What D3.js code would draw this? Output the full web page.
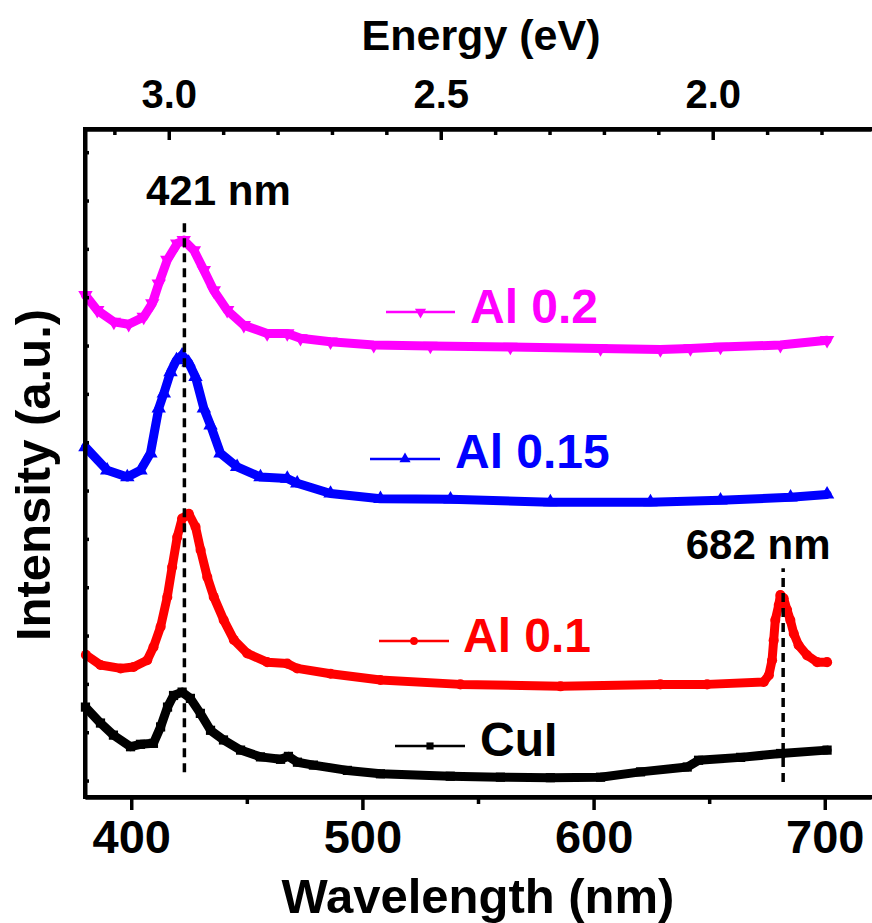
<!DOCTYPE html>
<html>
<head>
<meta charset="utf-8">
<script src="https://cdn.jsdelivr.net/npm/d3@7/dist/d3.min.js"></script>
<style>
  body { margin: 0; background: #fff; }
  svg text { font-family: "Liberation Sans", Arial, sans-serif; font-weight: bold; }
</style>
</head>
<body>
<svg id="chart" width="872" height="923"></svg>
<script>
// spectra: [wavelength nm, intensity a.u. (stacked)]
var cuiData = [
  [380.2,1.52],[386.7,1.19],[392.3,0.94],[399.7,0.70],[404.0,0.75],[409.6,0.77],
  [412.7,1.11],[415.7,1.52],[418.3,1.76],[422.0,1.83],[425.6,1.70],[429.9,1.39],
  [434.3,1.04],[439.9,0.84],[447.3,0.63],[455.9,0.49],[464.6,0.44],[468.0,0.50],
  [471.9,0.38],[478.8,0.32],[493.5,0.21],[507.8,0.14],[538.0,0.09],[559.7,0.07],
  [581.3,0.06],[603.0,0.07],[620.3,0.18],[640.5,0.28],[645.4,0.42],[663.6,0.48],
  [680.9,0.56],[701.0,0.63]
];
var al01Data = [
  [380.4,2.60],[386.7,2.39],[395.4,2.32],[401.0,2.35],[406.9,2.49],[409.6,2.76],
  [412.7,3.18],[415.6,3.80],[417.7,4.42],[419.9,5.04],[422.0,5.42],[424.9,5.52],
  [427.8,5.25],[430.0,4.77],[432.9,4.21],[435.7,3.80],[440.0,3.32],[444.4,2.91],
  [450.2,2.63],[458.8,2.45],[467.5,2.42],[471.8,2.32],[486.2,2.21],[507.8,2.08],
  [542.4,1.99],[585.7,1.95],[628.9,1.99],[649.1,1.99],[673.6,2.04],[675.8,2.18],
  [677.2,2.49],[677.9,2.90],[678.6,3.32],[680.1,3.63],[680.8,3.84],[682.2,3.77],
  [683.7,3.53],[685.1,3.32],[686.6,3.04],[688.7,2.80],[692.4,2.59],[696.7,2.45],
  [701.0,2.45]
];
var al015Data = [
  [380.2,6.90],[389.6,6.42],[398.3,6.28],[404.0,6.42],[408.3,6.77],[411.9,7.70],
  [414.1,8.01],[417.0,8.45],[419.6,8.70],[422.0,8.80],[424.8,8.65],[427.8,8.35],
  [431.4,7.70],[434.3,7.35],[438.6,6.77],[445.8,6.49],[455.9,6.28],[467.5,6.25],
  [471.8,6.15],[486.2,5.94],[507.8,5.83],[538.1,5.82],[581.3,5.76],[624.6,5.76],
  [654.9,5.80],[685.2,5.86],[701.0,5.92]
];
var al02Data = [
  [380.2,10.04],[385.3,9.73],[392.5,9.49],[398.9,9.44],[405.4,9.59],[409.1,9.87],
  [411.9,10.28],[415.6,10.77],[419.9,11.11],[422.7,11.18],[427.1,10.97],[431.4,10.56],
  [435.7,10.14],[441.5,9.73],[448.7,9.42],[458.8,9.25],[467.5,9.25],[473.2,9.15],
  [486.2,9.08],[504.9,9.01],[529.4,8.99],[564.0,8.97],[603.0,8.94],[628.9,8.92],
  [641.9,8.94],[654.9,8.97],[680.8,9.01],[701.0,9.11]
];

var seriesNames = ["CuI", "Al 0.1", "Al 0.15", "Al 0.2"];
var seriesColors = ["#000000", "#ff0000", "#0000ff", "#ff00ff"];

var wlMajorTicks = [400, 500, 600, 700];
var wlMinorTicks = [450, 550, 650];
var evMajorTicks = [3.0, 2.5, 2.0];
var evMinorTicks = [3.1, 2.9, 2.8, 2.7, 2.6, 2.4, 2.3, 2.2, 2.1, 1.9, 1.8];
var yTicks = d3.range(0, 14);

// peak markers: line position (nm), top/bottom (a.u.), label
var peakLines = [
  {x: 423, y0: 0.17, y1: 11.53, label: "421 nm", dx: 34, ty: 11.90},
  {x: 682, y0: -0.03, y1: 4.39, label: "682 nm", dx: -25, ty: 4.59}
];

var svg = d3.select("#chart");
var plotL = 85, plotR = 871, plotT = 129, plotB = 797;

var x = d3.scaleLinear().domain([380, 720]).range([plotL, plotR]);
var xe = d3.scaleLinear().domain([3.154, 1.709]).range([plotL, plotR]);
var y = d3.scaleLinear().domain([-0.34, 13.48]).range([plotB, plotT]);

// curves
var allData = [cuiData, al01Data, al015Data, al02Data];
var symbols = [d3.symbolSquare, d3.symbolCircle, d3.symbolTriangle, d3.symbolTriangle];
var symSize = [85, 80, 90, 90];
var rot = [0, 0, 0, 180];

var line = d3.line()
  .x(function (d) { return x(d[0]); })
  .y(function (d) { return y(d[1]); });

allData.forEach(function (data, i) {
  var g = svg.append("g");
  g.append("path")
    .datum(data)
    .attr("fill", "none")
    .attr("stroke", seriesColors[i])
    .attr("stroke-width", 9)
    .attr("stroke-linejoin", "round")
    .attr("stroke-linecap", "round")
    .attr("d", line);
  g.selectAll("path.m")
    .data(data)
    .enter().append("path")
    .attr("class", "m")
    .attr("fill", seriesColors[i])
    .attr("transform", function (d) {
      return "translate(" + x(d[0]) + "," + y(d[1]) + ") rotate(" + rot[i] + ")";
    })
    .attr("d", d3.symbol().type(symbols[i]).size(symSize[i]));
});

// dashed peak lines + labels
peakLines.forEach(function (p) {
  svg.append("line")
    .attr("x1", x(p.x)).attr("x2", x(p.x))
    .attr("y1", y(p.y0)).attr("y2", y(p.y1))
    .attr("stroke", "#000")
    .attr("stroke-width", 3.5)
    .attr("stroke-dasharray", "9,6");
  svg.append("text")
    .attr("x", x(p.x) + p.dx)
    .attr("y", y(p.ty))
    .attr("text-anchor", "middle")
    .attr("font-size", 42)
    .text(p.label);
});

// legend (top to bottom as in the figure)
var legendPos = [
  {i: 3, x1: 386, x2: 455, y: 312, tx: 470, ty: 323},
  {i: 2, x1: 370, x2: 440, y: 459, tx: 455, ty: 468},
  {i: 1, x1: 379, x2: 449, y: 641, tx: 463, ty: 652},
  {i: 0, x1: 395, x2: 465, y: 746, tx: 480, ty: 756}
];
legendPos.forEach(function (l) {
  var c = seriesColors[l.i];
  svg.append("line")
    .attr("x1", l.x1).attr("x2", l.x2).attr("y1", l.y).attr("y2", l.y)
    .attr("stroke", c).attr("stroke-width", 2.5);
  svg.append("path")
    .attr("fill", c)
    .attr("transform", "translate(" + ((l.x1 + l.x2) / 2) + "," + l.y + ") rotate(" + rot[l.i] + ")")
    .attr("d", d3.symbol().type(symbols[l.i]).size(symSize[l.i] * 0.6));
  svg.append("text")
    .attr("x", l.tx).attr("y", l.ty)
    .attr("fill", c)
    .attr("font-size", 48)
    .text(seriesNames[l.i]);
});

// axes
function styleAxis(g) {
  g.selectAll(".domain").attr("stroke", "#000").attr("stroke-width", 4);
  g.selectAll(".tick line").attr("stroke", "#000").attr("stroke-width", 3.5);
  g.selectAll("text").attr("fill", "#000").style("font-weight", "bold");
}

var xAxis = svg.append("g")
  .attr("transform", "translate(0," + plotB + ")")
  .call(d3.axisBottom(x).tickValues(wlMajorTicks).tickSize(13).tickPadding(10).tickSizeOuter(0))
  .attr("font-size", 47);
xAxis.call(styleAxis);
svg.append("g")
  .attr("transform", "translate(0," + plotB + ")")
  .call(d3.axisBottom(x).tickValues(wlMinorTicks).tickSize(7).tickFormat("").tickSizeOuter(0))
  .call(styleAxis);

var eAxis = svg.append("g")
  .attr("transform", "translate(0," + plotT + ")")
  .call(d3.axisTop(xe).tickValues(evMajorTicks).tickSize(-11).tickFormat(d3.format(".1f")).tickSizeOuter(0))
  .attr("font-size", 40);
eAxis.call(styleAxis);
eAxis.selectAll(".tick text").attr("y", -21);
svg.append("g")
  .attr("transform", "translate(0," + plotT + ")")
  .call(d3.axisTop(xe).tickValues(evMinorTicks).tickSize(-6).tickFormat("").tickSizeOuter(0))
  .call(styleAxis);

svg.append("g")
  .attr("transform", "translate(" + plotL + ",0)")
  .call(d3.axisLeft(y).tickValues(yTicks).tickSize(-4).tickFormat("").tickSizeOuter(0))
  .call(styleAxis);

// frame
svg.append("line").attr("x1", plotL).attr("x2", plotL).attr("y1", plotT - 2).attr("y2", plotB + 2)
  .attr("stroke", "#000").attr("stroke-width", 4);
svg.append("line").attr("x1", plotL - 2).attr("x2", 880).attr("y1", plotT).attr("y2", plotT)
  .attr("stroke", "#000").attr("stroke-width", 4);
svg.append("line").attr("x1", plotL - 2).attr("x2", 880).attr("y1", plotB).attr("y2", plotB)
  .attr("stroke", "#000").attr("stroke-width", 4);

// titles
svg.append("text")
  .attr("x", 478).attr("y", 913)
  .attr("text-anchor", "middle")
  .attr("font-size", 49)
  .text("Wavelength (nm)");
svg.append("text")
  .attr("x", 481).attr("y", 50)
  .attr("text-anchor", "middle")
  .attr("font-size", 43)
  .text("Energy (eV)");
svg.append("text")
  .attr("transform", "translate(50,475) rotate(-90)")
  .attr("text-anchor", "middle")
  .attr("font-size", 49)
  .text("Intensity (a.u.)");
</script>
</body>
</html>
